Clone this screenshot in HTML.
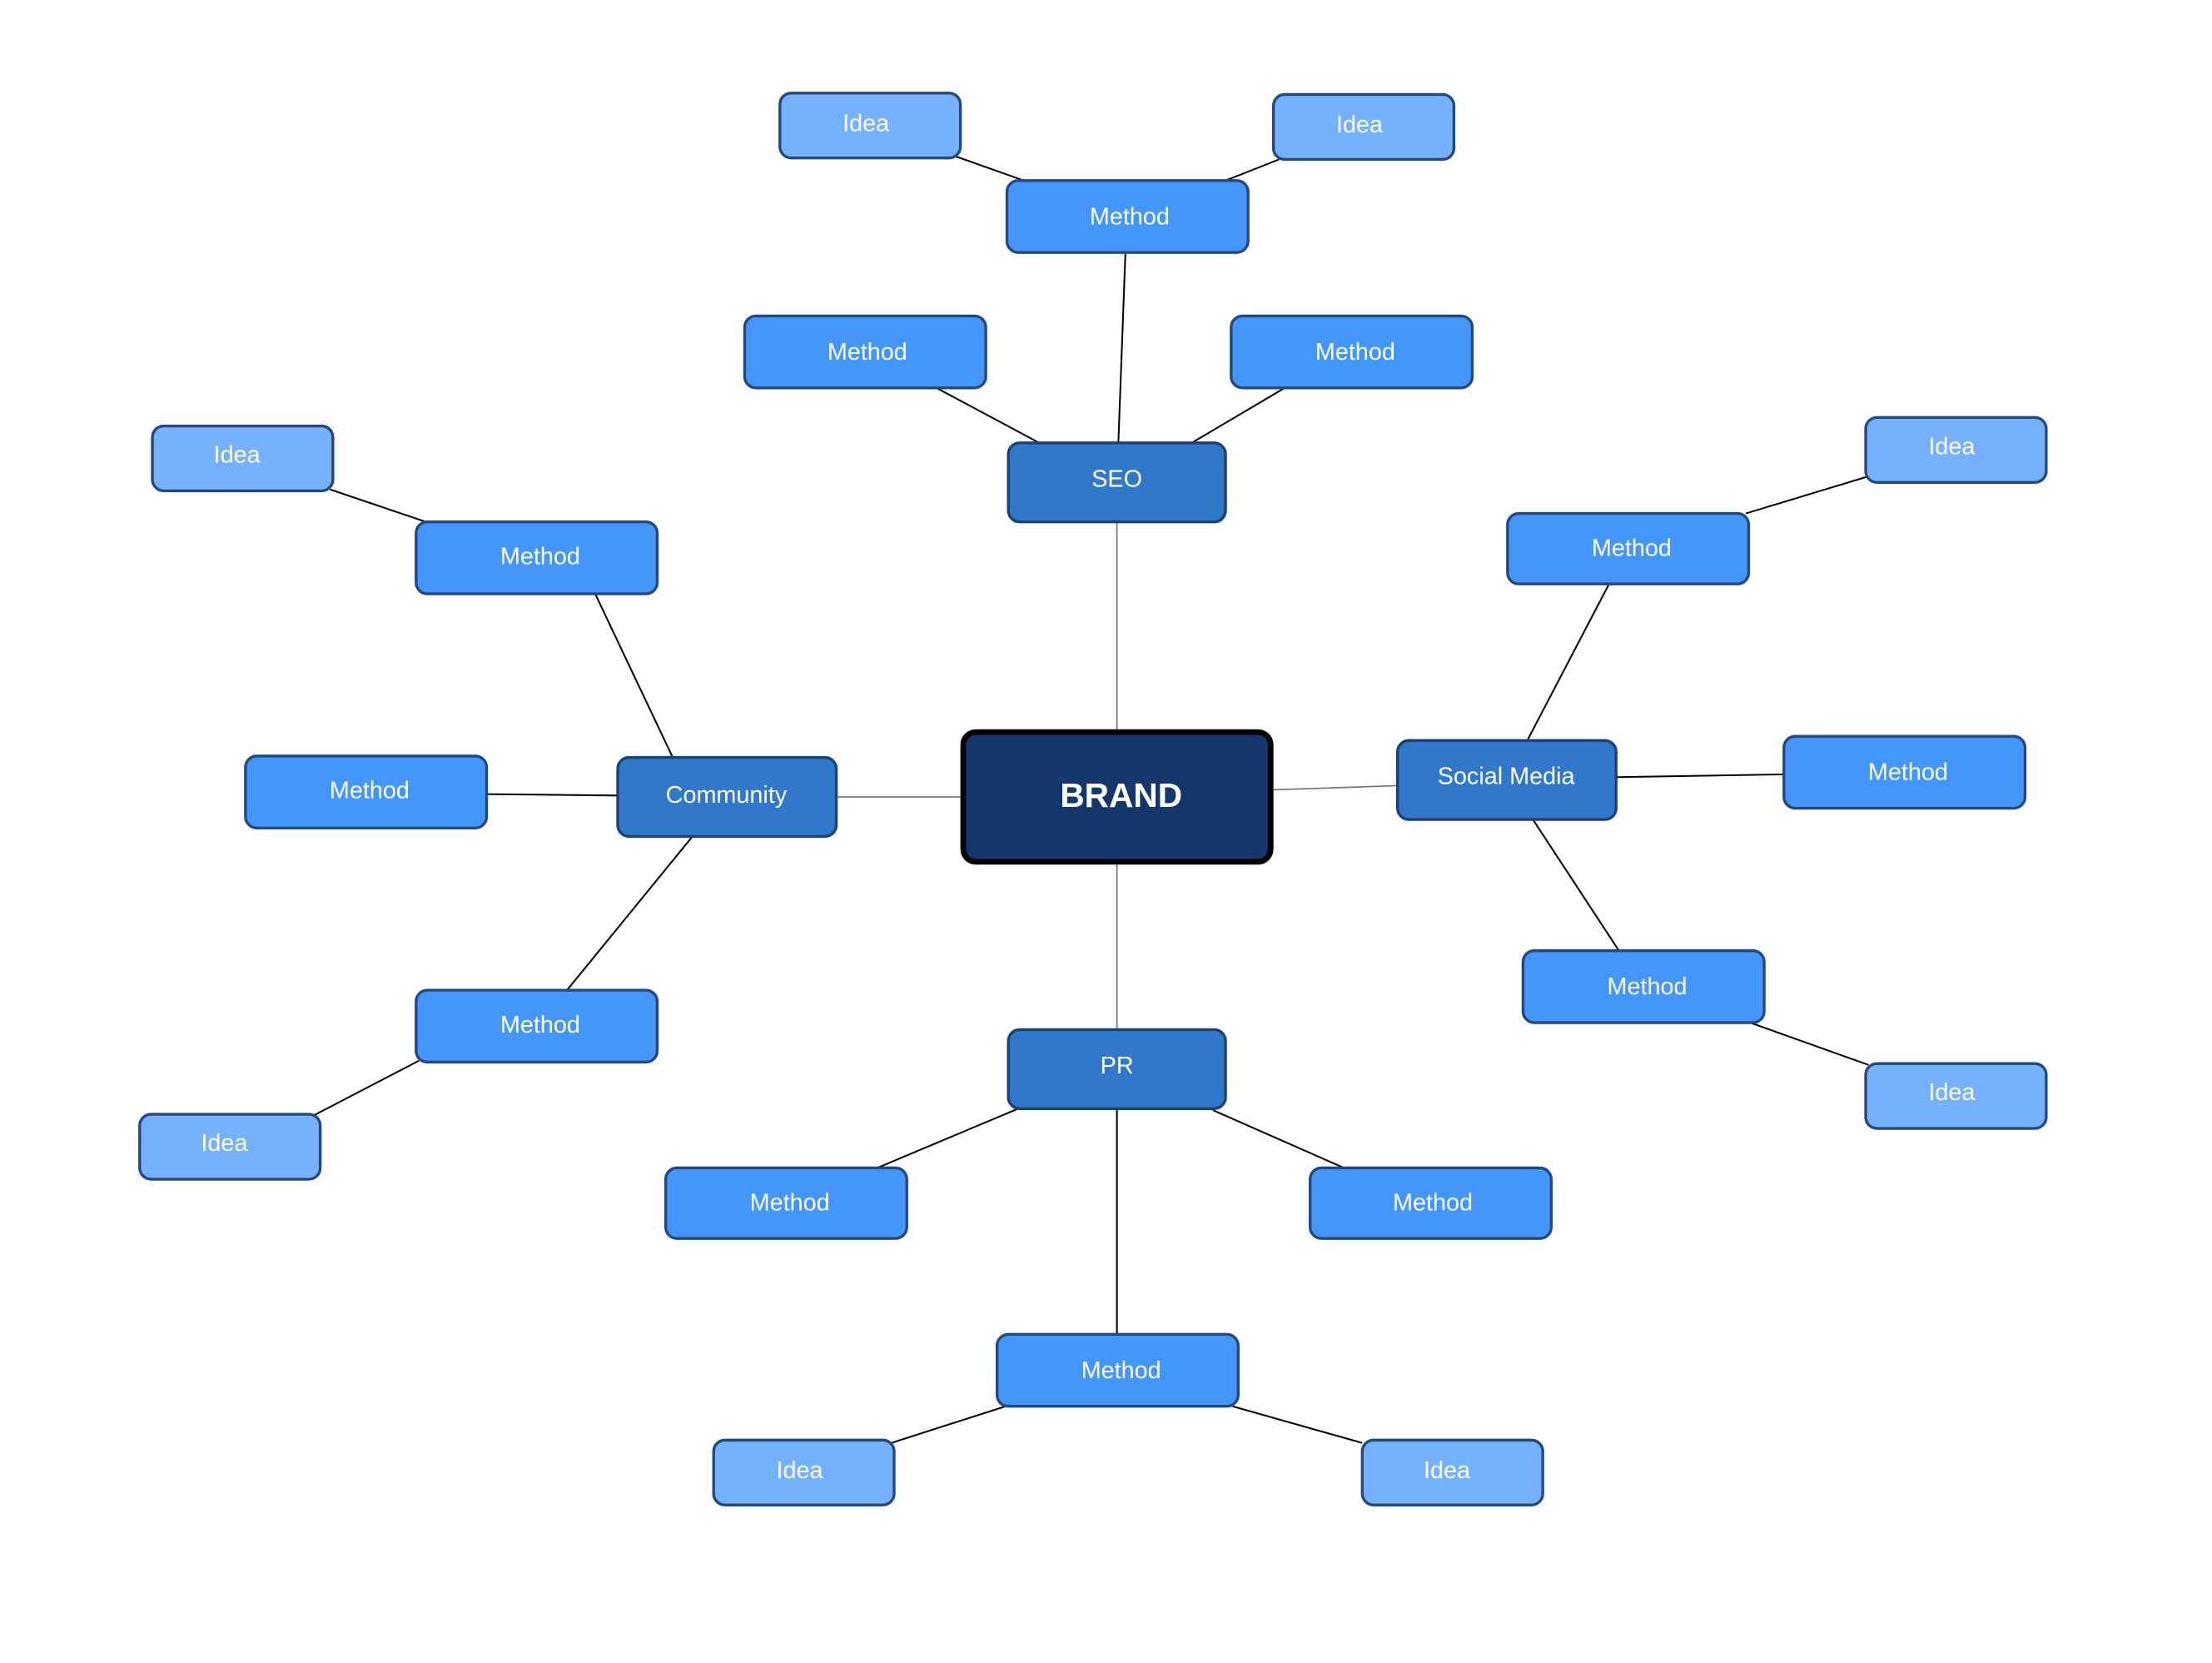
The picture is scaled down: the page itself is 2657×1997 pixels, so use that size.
<!DOCTYPE html>
<html><head><meta charset="utf-8"><style>html,body{margin:0;padding:0;background:#fff}svg{display:block}</style></head>
<body>
<svg xmlns="http://www.w3.org/2000/svg" width="2657" height="1997" viewBox="0 0 1568.5 1179">
<rect width="1568.5" height="1179" fill="#fff"/>
<g stroke="#000" stroke-width="1.2" fill="none">
<line x1="678" y1="111" x2="726" y2="128"/>
<line x1="907" y1="113" x2="869" y2="128"/>
<line x1="798" y1="180" x2="793" y2="314"/>
<line x1="664" y1="275" x2="737" y2="314"/>
<line x1="911" y1="275" x2="845" y2="314"/>
<line x1="477" y1="537" x2="422" y2="421"/>
<line x1="345" y1="563" x2="438" y2="564"/>
<line x1="491" y1="593" x2="402" y2="702"/>
<line x1="234" y1="347" x2="302" y2="370"/>
<line x1="297" y1="752" x2="222" y2="791"/>
<line x1="1083" y1="525" x2="1141" y2="414"/>
<line x1="1238" y1="364" x2="1324" y2="338"/>
<line x1="1146" y1="551" x2="1265" y2="549"/>
<line x1="1087" y1="581" x2="1148" y2="674"/>
<line x1="1241" y1="725" x2="1325" y2="755"/>
<line x1="722" y1="786" x2="622" y2="828"/>
<line x1="860" y1="787" x2="953" y2="828"/>
<line x1="792" y1="786" x2="792" y2="946"/>
<line x1="713" y1="997" x2="632" y2="1023"/>
<line x1="874" y1="997" x2="966" y2="1023"/>
</g>
<g stroke="#777" stroke-width="1" fill="none">
<line x1="792" y1="370" x2="792" y2="519"/>
<line x1="792" y1="611" x2="792" y2="730"/>
<line x1="593" y1="565" x2="683" y2="565"/>
<line x1="901" y1="560" x2="991" y2="557"/>
</g>
<g stroke="#23497e" stroke-width="2">
<g fill="#76b1fb">
<rect x="553" y="66" width="128" height="46" rx="8"/>
<rect x="903" y="67" width="128" height="46" rx="8"/>
<rect x="108" y="302" width="128" height="46" rx="8"/>
<rect x="99" y="790" width="128" height="46" rx="8"/>
<rect x="1323" y="296" width="128" height="46" rx="8"/>
<rect x="1323" y="754" width="128" height="46" rx="8"/>
<rect x="506" y="1021" width="128" height="46" rx="8"/>
<rect x="966" y="1021" width="128" height="46" rx="8"/>
</g>
<g fill="#4596fb">
<rect x="714" y="128" width="171" height="51" rx="8"/>
<rect x="528" y="224" width="171" height="51" rx="8"/>
<rect x="873" y="224" width="171" height="51" rx="8"/>
<rect x="295" y="370" width="171" height="51" rx="8"/>
<rect x="174" y="536" width="171" height="51" rx="8"/>
<rect x="295" y="702" width="171" height="51" rx="8"/>
<rect x="1069" y="364" width="171" height="50" rx="8"/>
<rect x="1265" y="522" width="171" height="51" rx="8"/>
<rect x="1080" y="674" width="171" height="51" rx="8"/>
<rect x="472" y="828" width="171" height="50" rx="8"/>
<rect x="929" y="828" width="171" height="50" rx="8"/>
<rect x="707" y="946" width="171" height="51" rx="8"/>
</g>
<g fill="#3278ca" stroke="#1b4275">
<rect x="715" y="314" width="154" height="56" rx="8"/>
<rect x="438" y="537" width="155" height="56" rx="8"/>
<rect x="991" y="525" width="155" height="56" rx="8"/>
<rect x="715" y="730" width="154" height="56" rx="8"/>
</g>
</g>
<rect x="683" y="519" width="218" height="92" rx="9" fill="#14366b" stroke="#000" stroke-width="4"/>
<g fill="#fff" font-family="Liberation Sans, sans-serif" font-size="17" text-anchor="middle">
<text x="614" y="93">Idea</text>
<text x="964" y="94">Idea</text>
<text x="168" y="328">Idea</text>
<text x="159" y="816">Idea</text>
<text x="1384" y="322">Idea</text>
<text x="1384" y="780">Idea</text>
<text x="567" y="1048">Idea</text>
<text x="1026" y="1048">Idea</text>
<text x="801" y="159">Method</text>
<text x="615" y="255">Method</text>
<text x="961" y="255">Method</text>
<text x="383" y="400">Method</text>
<text x="262" y="566">Method</text>
<text x="383" y="732">Method</text>
<text x="1157" y="394">Method</text>
<text x="1353" y="553">Method</text>
<text x="1168" y="705">Method</text>
<text x="560" y="858">Method</text>
<text x="1016" y="858">Method</text>
<text x="795" y="977">Method</text>
<text x="792" y="345">SEO</text>
<text x="515" y="569">Community</text>
<text x="1068" y="556">Social Media</text>
<text x="792" y="761">PR</text>
<text x="795" y="572" font-size="24" font-weight="bold">BRAND</text>
</g>
</svg>
</body></html>
